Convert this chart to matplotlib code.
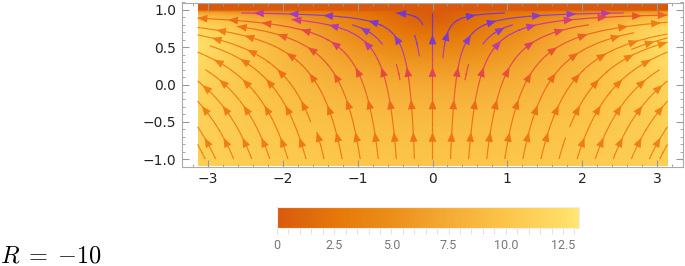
import numpy as np
import matplotlib
matplotlib.use("Agg")
import matplotlib.pyplot as plt
from matplotlib.colors import LinearSegmentedColormap, Normalize
from matplotlib.patches import FancyArrowPatch
from matplotlib.ticker import MultipleLocator

# ----------------------------------------------------------------------
# field parameters (R = -10 case)
# ----------------------------------------------------------------------
x_range = (-np.pi, np.pi)
y_range = (-1.1, 1.1)
stream_top = 0.96     # stream lines stop just under the top wall
v_bottom = 10.0      # upward speed at y = -1
v_power = 1.67       # decay of v toward the top wall
v_knee = 0.2         # where v saturates
turn_gain = 0.39     # u / (x v) at mid height
turn_power = 1.3     # how sharply the flow turns near the top

speed_max = 13.2
cbar_ticks = [0, 2.5, 5.0, 7.5, 10.0, 12.5]
cbar_labels = ["0", "2.5", "5.0", "7.5", "10.0", "12.5"]
x_ticks = [-3, -2, -1, 0, 1, 2, 3]
y_ticks = [-1.0, -0.5, 0.0, 0.5, 1.0]
label = r"$R\;=\;{-}10$"

# background colours (speed) and streamline colours (speed)
bg_colors = ["#d95a0d", "#e6780a", "#ec8e1a", "#f5ab35", "#fcc54a", "#ffdd66", "#ffe774"]
bg_stops = [0.0, 0.2, 0.38, 0.57, 0.76, 0.95, 1.0]
line_colors = ["#6a38cc", "#7a3acb", "#a03ec4", "#d23a8c", "#e84a3a", "#ee6a18", "#f07e12", "#f28a14"]
line_speeds = [0.0, 3.0, 4.5, 5.5, 7.0, 8.5, 10.5, 13.2]

bg_cmap = LinearSegmentedColormap.from_list("bg", list(zip(bg_stops, bg_colors)))
line_cmap = LinearSegmentedColormap.from_list(
    "ln", [(s / speed_max, c) for s, c in zip(line_speeds, line_colors)])
norm = Normalize(0, speed_max)


def velocity(X, Y):
    t = np.clip((1 - Y) / 2, 0, None)
    V = v_bottom * (1 + v_knee) * t ** v_power / (t ** v_power + v_knee)
    q = turn_gain / np.clip(1 - Y, 0.02, None) ** turn_power
    return X * q * V, V


# background grid and stream grid
X, Y = np.meshgrid(np.linspace(*x_range, 320), np.linspace(*y_range, 180))
U, V = velocity(X, Y)
speed = np.hypot(U, V)

Xs, Ys = np.meshgrid(np.linspace(*x_range, 320), np.linspace(-1.0, stream_top, 160))
Us, Vs = velocity(Xs, Ys)
speed_s = np.hypot(Us, Vs)

# ----------------------------------------------------------------------
# figure
# ----------------------------------------------------------------------
plt.rcParams["mathtext.fontset"] = "cm"
fig = plt.figure(figsize=(6.85, 2.66), dpi=100)
ax = fig.add_axes([182 / 685, (266 - 166.5) / 266, 501 / 685, 164 / 266])

ax.imshow(speed, extent=[*x_range, *y_range], origin="lower", cmap=bg_cmap,
          norm=norm, interpolation="bilinear", aspect="auto", zorder=0)
sp = ax.streamplot(Xs, Ys, Us, Vs, color=speed_s, cmap=line_cmap, norm=norm,
                   density=(0.9, 0.72), linewidth=0.85, arrowstyle="-",
                   broken_streamlines=True, zorder=2)

# Mathematica style: several arrow heads along each stream line
segs = sp.lines.get_segments()
vals = np.asarray(sp.lines.get_array())
polylines = []
for seg, val in zip(segs, vals):
    if polylines and np.allclose(seg[0], polylines[-1][0][-1]):
        polylines[-1][0].append(seg[1])
        polylines[-1][1].append(val)
    else:
        polylines.append(([seg[0], seg[1]], [val]))

arrow_gap = 0.45
arrow_start = 0.3
for pts, pv in polylines:
    pts = np.array(pts)
    s = np.concatenate([[0], np.cumsum(np.hypot(*np.diff(pts, axis=0).T))])
    for pos in np.arange(arrow_start, s[-1] - 0.05, arrow_gap):
        i = min(max(np.searchsorted(s, pos), 1), len(pts) - 1)
        if pv[i - 1] < 0.8:
            continue
        j = max(np.searchsorted(s, s[i] - 0.2), 0)
        j = min(j, i - 1)
        ax.add_patch(FancyArrowPatch(
            pts[j], pts[i], arrowstyle="-|>,head_length=0.5,head_width=0.2",
            mutation_scale=14, facecolor=line_cmap(norm(pv[i - 1])),
            edgecolor="none", linewidth=0, shrinkA=0, shrinkB=0, zorder=3))

ax.set_xlim(-3.35, 3.35)
ax.set_ylim(-1.1, 1.1)
ax.set_xticks(x_ticks)
ax.set_yticks(y_ticks)
ax.set_yticklabels([f"{v:.1f}".replace("-", "\u2212") for v in y_ticks])
ax.xaxis.set_minor_locator(MultipleLocator(0.2))
ax.yaxis.set_minor_locator(MultipleLocator(0.1))
ax.tick_params(which="both", direction="in", top=True, right=True,
               color="#999999", labelsize=10, labelcolor="#222222", pad=4)
ax.tick_params(which="major", length=5, width=0.8)
ax.tick_params(which="minor", length=2.5, width=0.6)
for s in ax.spines.values():
    s.set_color("#aaaaaa")
    s.set_linewidth(0.8)

# colour bar
cax = fig.add_axes([277 / 685, (266 - 227.7) / 266, 302 / 685, 20.4 / 266])
sm = plt.cm.ScalarMappable(norm=norm, cmap=bg_cmap)
cb = fig.colorbar(sm, cax=cax, orientation="horizontal")
cb.outline.set_edgecolor("#eeeeee")
cb.set_ticks(cbar_ticks)
cb.set_ticklabels(cbar_labels)
cax.xaxis.set_minor_locator(MultipleLocator(0.5))
cax.tick_params(which="both", color="#dddddd", labelcolor="#777777",
                labelsize=9, length=4, width=0.6, pad=4)
for tl in cax.get_xticklabels():
    tl.set_family(["Liberation Sans Narrow", "Roboto", "DejaVu Sans"])

fig.text(0.0, 0.015, label, fontsize=17.5)

fig.savefig("out.png", dpi=100)
